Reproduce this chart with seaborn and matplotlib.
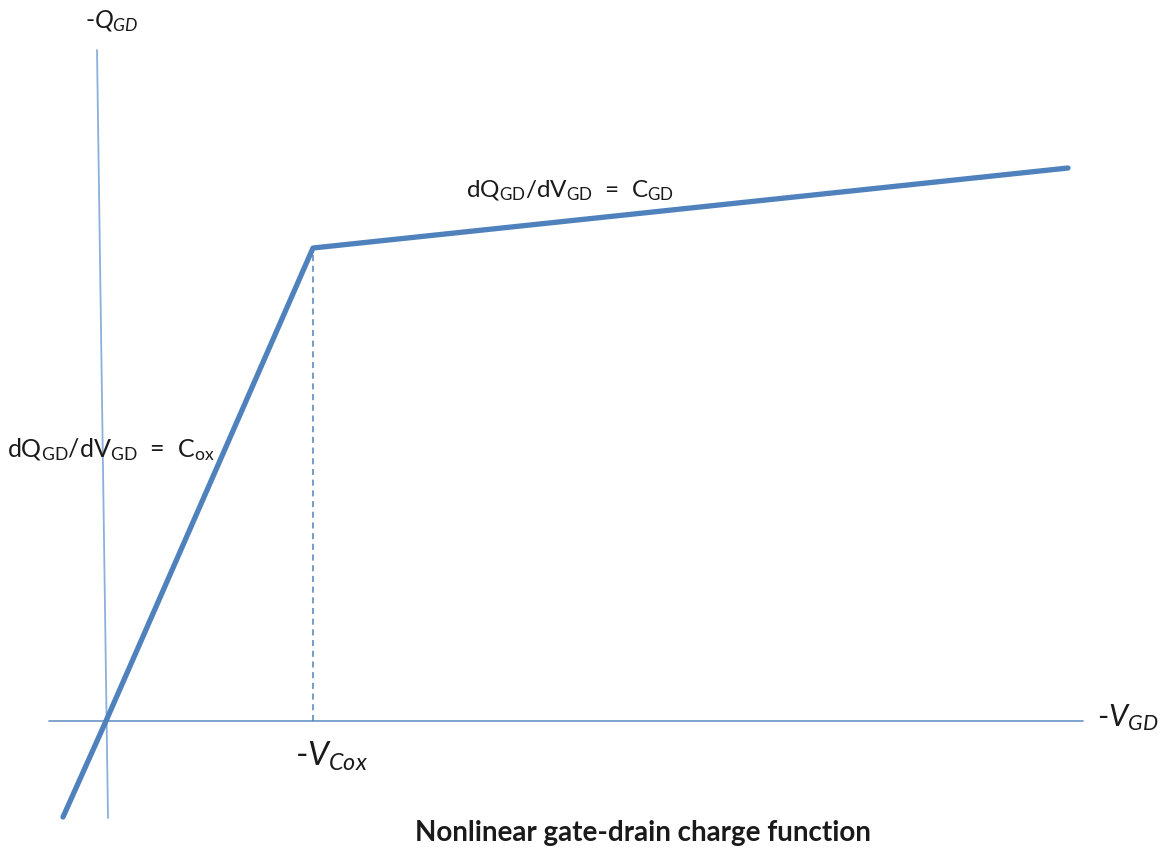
import matplotlib
matplotlib.use('Agg')
import matplotlib.pyplot as plt
import seaborn as sns
import pandas as pd

sns.set_theme(style='white')
plt.rcParams['font.family'] = ['Lato', 'DejaVu Sans']
plt.rcParams['mathtext.fontset'] = 'custom'
plt.rcParams['mathtext.rm'] = 'Lato'
plt.rcParams['mathtext.it'] = 'Lato:italic'
plt.rcParams['mathtext.bf'] = 'Lato:bold'

# charge curve: -V_GD vs -Q_GD (piecewise linear, knee at V_Cox)
v_gd = [-0.43, 0.0, 2.07, 9.62]
q_gd = [-0.96, 0.0, 4.73, 5.53]
v_cox = 2.07

# axes lines (the y axis is drawn slightly tilted in the original)
x_axis_v = [-0.57, 9.77]
x_axis_q = [0.0, 0.0]
y_axis_v = [-0.09, 0.02]
y_axis_q = [6.71, -0.97]

blue = '#4F81BD'
txt = '#1a1a1a'

fig = plt.figure(figsize=(11.69, 8.55), dpi=100)
ax = fig.add_axes([0, 0, 1, 1])

df = pd.DataFrame({'v': v_gd, 'q': q_gd})
ax.plot(x_axis_v, x_axis_q, color=blue, lw=1.2, alpha=0.85)
ax.plot(y_axis_v, y_axis_q, color='#8DB0DA', lw=1.3)
ax.plot([v_cox, v_cox], [0, q_gd[2]], color=blue, lw=1.1, ls=(0, (4, 3)))
sns.lineplot(data=df, x='v', y='q', sort=False, estimator=None,
             color=blue, lw=3.8, ax=ax)

ax.text(-0.21, 6.93, r'-$\mathit{Q}_{\mathit{GD}}$', fontsize=18, color=txt,
        ha='left', va='baseline')
ax.text(9.91, -0.05, r'-$\mathit{V}_{\mathit{GD}}$', fontsize=22, color=txt,
        ha='left', va='baseline')
ax.text(1.89, -0.45, r'-$\mathit{V}_{\mathit{Cox}}$', fontsize=24, color=txt,
        ha='left', va='baseline')
ax.text(-0.99, 2.64, r'dQ$_{\mathrm{GD}}$/dV$_{\mathrm{GD}}$  =  C$_{\mathrm{ox}}$',
        fontsize=18, color=txt, ha='left', va='baseline')
ax.text(3.60, 5.24, r'dQ$_{\mathrm{GD}}$/dV$_{\mathrm{GD}}$  =  C$_{\mathrm{GD}}$',
        fontsize=17.5, color=txt, ha='left', va='baseline')
ax.text(5.37, -1.20, 'Nonlinear gate-drain charge function', fontsize=20,
        fontweight='bold', color=txt, ha='center', va='baseline')

ax.set_xlim(-1.06, 10.63)
ax.set_ylim(-1.34, 7.21)
ax.set_axis_off()

fig.savefig('out.png', dpi=100, facecolor='white')
